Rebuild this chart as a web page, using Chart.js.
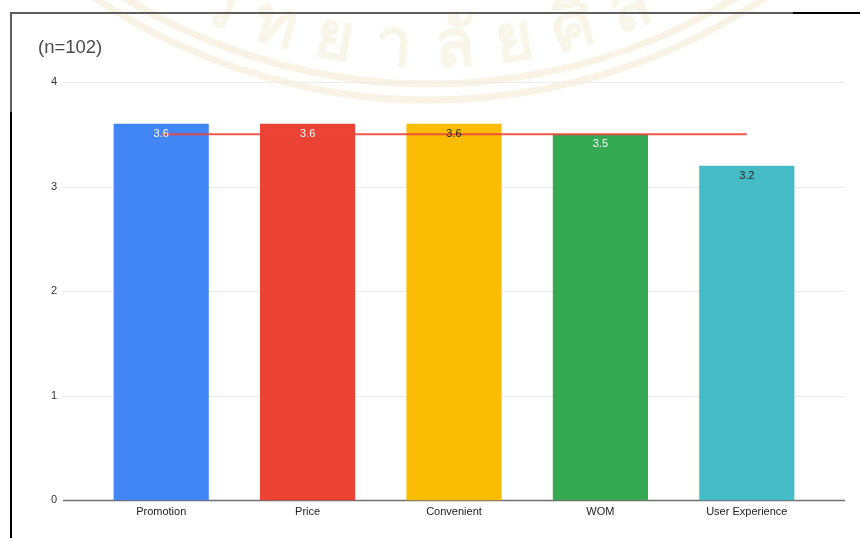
<!DOCTYPE html>
<html>
<head>
<meta charset="utf-8">
<script src="https://cdn.jsdelivr.net/npm/chart.js@4"></script>
<style>
  html, body { margin: 0; padding: 0; background: #fff; }
  #wrap { position: relative; width: 860px; height: 538px; overflow: hidden; }
  .edge { position: absolute; }
</style>
</head>
<body>
<div id="wrap">
  <canvas id="scoreChart" width="860" height="538"></canvas>
  <div class="edge" style="left:10px;top:12px;width:783px;height:2px;background:#5e5e5e"></div>
  <div class="edge" style="left:793px;top:12px;width:67px;height:2px;background:#000"></div>
  <div class="edge" style="left:10px;top:12px;width:2px;height:100px;background:#5e5e5e"></div>
  <div class="edge" style="left:10px;top:112px;width:2px;height:426px;background:#000"></div>
</div>
<script>
const categories = ['Promotion', 'Price', 'Convenient', 'WOM', 'User Experience'];
const scores = [3.6, 3.6, 3.6, 3.5, 3.2];
const average = [3.5, 3.5, 3.5, 3.5, 3.5];
const barColors = ['#4285f4', '#ea4335', '#fbbc04', '#34a853', '#46bdc6'];
const labelColors = ['#ffffff', '#ffffff', '#222222', '#ffffff', '#222222'];
const yTicks = [0, 1, 2, 3, 4];
const sealLetters = ['วิ', 'ท', 'ย', 'า', 'ลั', 'ย', 'ศิ', 'ล'];

const FONT = '"Liberation Sans", Arial, sans-serif';

// faded university seal behind the chart
const seal = {
  id: 'seal',
  beforeDraw(chart) {
    const ctx = chart.ctx;
    const cx = 430, cy = -500;
    ctx.save();
    ctx.strokeStyle = 'rgba(222,196,120,0.2)';
    ctx.lineWidth = 7;
    [600, 584].forEach(r => {
      ctx.beginPath();
      ctx.arc(cx, cy, r, 0.22 * Math.PI, 0.78 * Math.PI);
      ctx.stroke();
    });
    ctx.fillStyle = 'rgba(222,196,120,0.17)';
    ctx.font = 'bold 66px "Noto Sans", "DejaVu Sans", sans-serif';
    ctx.textAlign = 'center';
    ctx.textBaseline = 'middle';
    const r = 548;
    sealLetters.forEach((ch, i) => {
      const a = (i - 3.6) * 0.11;
      ctx.save();
      ctx.translate(cx + r * Math.sin(a), cy + r * Math.cos(a));
      ctx.rotate(-a);
      ctx.fillText(ch, 0, 0);
      ctx.restore();
    });
    ctx.restore();
  }
};

// horizontal gridlines run a little past the category band
const wideGrid = {
  id: 'wideGrid',
  beforeDatasetsDraw(chart) {
    const { ctx, chartArea, scales } = chart;
    const y = scales.y;
    ctx.save();
    y.ticks.forEach(t => {
      const py = Math.round(y.getPixelForValue(t.value)) + 0.5;
      ctx.beginPath();
      ctx.strokeStyle = t.value === 0 ? '#6f6f6f' : '#ececec';
      ctx.lineWidth = t.value === 0 ? 1.5 : 1;
      ctx.moveTo(chartArea.left - 25, py);
      ctx.lineTo(chartArea.right + 25, py);
      ctx.stroke();
    });
    ctx.restore();
  }
};

const barValues = {
  id: 'barValues',
  afterDatasetsDraw(chart) {
    const ctx = chart.ctx;
    const meta = chart.getDatasetMeta(0);
    ctx.save();
    ctx.font = '11px ' + FONT;
    ctx.textAlign = 'center';
    ctx.textBaseline = 'middle';
    meta.data.forEach((bar, i) => {
      ctx.fillStyle = labelColors[i];
      ctx.fillText(scores[i].toFixed(1), bar.x, bar.y + 10);
    });
    ctx.restore();
  }
};

const heading = {
  id: 'heading',
  afterDraw(chart) {
    const ctx = chart.ctx;
    ctx.save();
    ctx.font = '18.5px ' + FONT;
    ctx.fillStyle = '#4a4a4a';
    ctx.textBaseline = 'middle';
    ctx.fillText('(n=102)', 38, 48);
    ctx.restore();
  }
};

new Chart(document.getElementById('scoreChart'), {
  data: {
    labels: categories,
    datasets: [
      {
        type: 'bar',
        data: scores,
        backgroundColor: barColors,
        barPercentage: 0.65,
        categoryPercentage: 1,
        order: 1
      },
      {
        type: 'line',
        data: average,
        borderColor: 'rgba(236,70,58,0.9)',
        borderWidth: 2,
        pointRadius: 0,
        tension: 0,
        order: 0
      }
    ]
  },
  options: {
    responsive: false,
    animation: false,
    layout: { autoPadding: false, padding: { top: 82, left: 38, right: 40, bottom: 0 } },
    plugins: { legend: { display: false }, tooltip: { enabled: false } },
    scales: {
      x: {
        grid: { display: false, drawTicks: false },
        border: { display: false },
        ticks: { color: '#222', padding: 5, font: { family: FONT, size: 11 } },
        afterFit: s => { s.height = 37; }
      },
      y: {
        min: 0,
        max: 4,
        afterBuildTicks: s => { s.ticks = yTicks.map(v => ({ value: v })); },
        grid: { display: false, drawTicks: false },
        border: { display: false },
        ticks: { color: '#333', padding: 31, font: { family: FONT, size: 11 } },
        afterFit: s => { s.width = 50; }
      }
    }
  },
  plugins: [seal, wideGrid, barValues, heading]
});
</script>
</body>
</html>
